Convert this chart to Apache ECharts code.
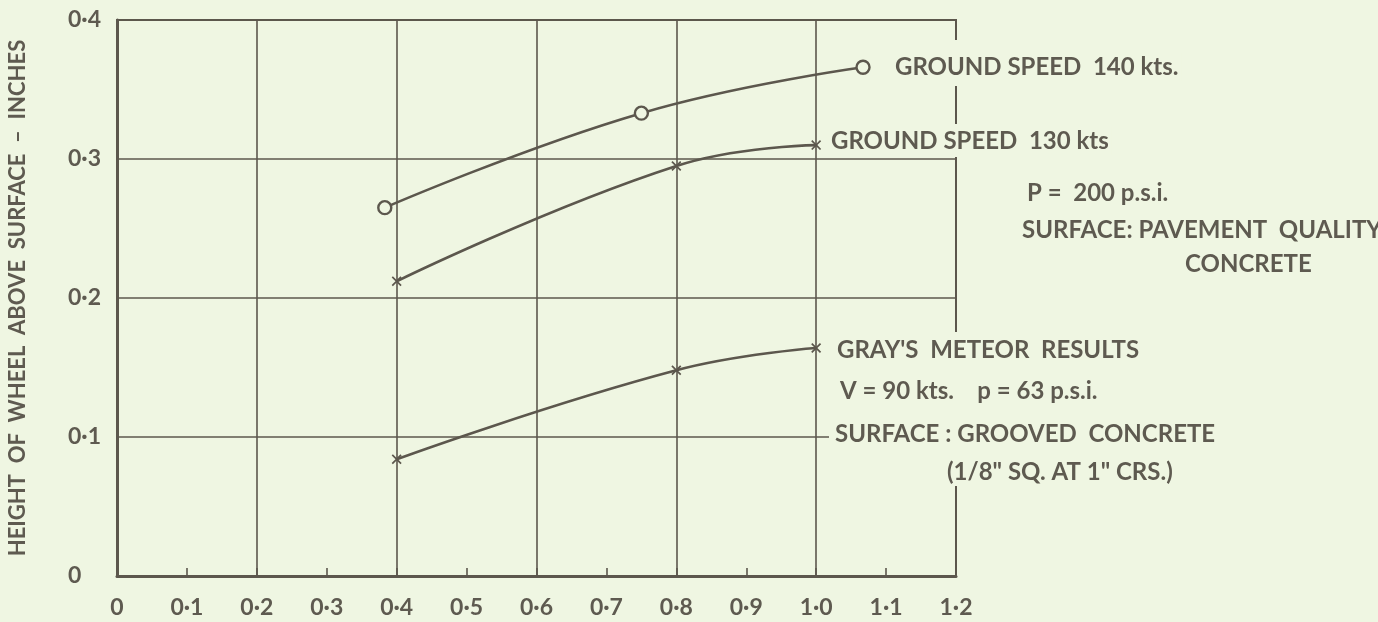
<!DOCTYPE html>
<html>
<head>
<meta charset="utf-8">
<script src="https://cdn.jsdelivr.net/npm/echarts@6/dist/echarts.min.js"></script>
<style>
  html, body { margin: 0; padding: 0; background: #eff6e2; }
  #chart { width: 1378px; height: 622px; }
</style>
</head>
<body>
<div id="chart"></div>
<script>
// ---- data ----
const xTickLabels = ['0', '0·1', '0·2', '0·3', '0·4', '0·5', '0·6', '0·7', '0·8', '0·9', '1·0', '1·1', '1·2'];
const yTickLabels = ['0', '0·1', '0·2', '0·3', '0·4'];
const speed140 = [[0.383, 0.265], [0.75, 0.333], [1.067, 0.366]];
const speed130 = [[0.4, 0.212], [0.8, 0.295], [1.0, 0.31]];
const graysMeteor = [[0.4, 0.084], [0.8, 0.148], [1.0, 0.164]];
const yAxisTitle = 'HEIGHT  OF  WHEEL  ABOVE  SURFACE  –  INCHES';
const notes = [
  { text: 'GROUND SPEED  140 kts.', x: 895, y: 67 },
  { text: 'GROUND SPEED  130 kts', x: 831, y: 141 },
  { text: 'P =  200 p.s.i.', x: 1027, y: 193 },
  { text: 'SURFACE: PAVEMENT  QUALITY', x: 1022, y: 230 },
  { text: 'CONCRETE', x: 1185, y: 264 },
  { text: "GRAY'S  METEOR  RESULTS", x: 837, y: 350 },
  { text: 'V = 90 kts.    p = 63 p.s.i.', x: 840, y: 391 },
  { text: 'SURFACE : GROOVED  CONCRETE', x: 835, y: 434 },
  { text: '(1/8" SQ. AT 1" CRS.)', x: 947, y: 472 }
];

const BG = '#eff6e2';
const INK = '#5c574d';
const TXT = '#5e5a50';
const FONT = 'Lato';

const crossPath = 'path://M0,1.2L1.2,0L5,3.8L8.8,0L10,1.2L6.2,5L10,8.8L8.8,10L5,6.2L1.2,10L0,8.8L3.8,5Z';

const chart = echarts.init(document.getElementById('chart'), null, { renderer: 'canvas' });

const lineSeries = (name, data, symbol, size, ring) => ({
  name, type: 'line', data, xAxisIndex: 0, yAxisIndex: 0,
  smooth: 0.45,
  symbol, symbolSize: size,
  showSymbol: true,
  lineStyle: { color: INK, width: 2.6 },
  itemStyle: ring
    ? { color: BG, borderColor: INK, borderWidth: 2.4 }
    : { color: INK, borderWidth: 0 },
  emphasis: { disabled: true },
  z: 5
});

const graphics = [
  // gaps in the right-hand border where the lettering interrupts it
  { type: 'rect', shape: { x: 950, y: 40, width: 12, height: 46 }, style: { fill: BG }, z: 90, silent: true },
  { type: 'rect', shape: { x: 950, y: 124, width: 12, height: 33 }, style: { fill: BG }, z: 90, silent: true },
  { type: 'rect', shape: { x: 950, y: 332, width: 12, height: 136 }, style: { fill: BG }, z: 90, silent: true }
];
notes.forEach(n => {
  graphics.push({
    type: 'text', x: n.x - 6, y: n.y, z: 100, silent: true,
    style: {
      text: n.text, fill: TXT, font: 'bold 24px ' + FONT,
      verticalAlign: 'middle', align: 'left',
      backgroundColor: BG, padding: [2, 3, 2, 6]
    }
  });
});

chart.setOption({
  backgroundColor: BG,
  animation: false,
  grid: {
    left: 117, right: 422, top: 20, bottom: 46,
    outerBoundsMode: 'none', containLabel: false,
    show: true, borderColor: INK, borderWidth: 2, backgroundColor: 'transparent'
  },
  xAxis: [
    {
      type: 'value', min: 0, max: 1.2, interval: 0.1, position: 'bottom',
      axisLine: { show: true, onZero: false, lineStyle: { color: INK, width: 3 } },
      axisTick: { show: true, inside: true, length: 8, lineStyle: { color: INK, width: 1.6 } },
      axisLabel: {
        color: TXT, fontFamily: FONT, fontWeight: 'bold', fontSize: 23, margin: 20,
        formatter: v => xTickLabels[Math.round(v * 10)]
      },
      splitLine: { show: false }
    },
    {
      type: 'value', min: 0, max: 1.2, interval: 0.2, position: 'bottom',
      axisLine: { show: false }, axisTick: { show: false }, axisLabel: { show: false },
      splitLine: { show: true, lineStyle: { color: INK, width: 1.6 } }
    }
  ],
  yAxis: {
    type: 'value', min: 0, max: 0.4, interval: 0.1,
    name: yAxisTitle, nameLocation: 'middle', nameGap: 88, nameRotate: 90,
    nameTextStyle: { color: TXT, fontFamily: FONT, fontWeight: 'bold', fontSize: 22 },
    axisLine: { show: true, onZero: false, lineStyle: { color: INK, width: 3 } },
    axisTick: { show: false },
    axisLabel: {
      color: TXT, fontFamily: FONT, fontWeight: 'bold', fontSize: 23, margin: 49, align: 'left',
      formatter: v => yTickLabels[Math.round(v * 10)]
    },
    splitLine: { show: true, lineStyle: { color: INK, width: 1.6 } }
  },
  series: [
    lineSeries('Ground speed 140 kts', speed140, 'circle', 13, true),
    lineSeries('Ground speed 130 kts', speed130, crossPath, 10, false),
    lineSeries("Gray's Meteor results", graysMeteor, crossPath, 10, false)
  ],
  graphic: graphics
});
</script>
</body>
</html>
